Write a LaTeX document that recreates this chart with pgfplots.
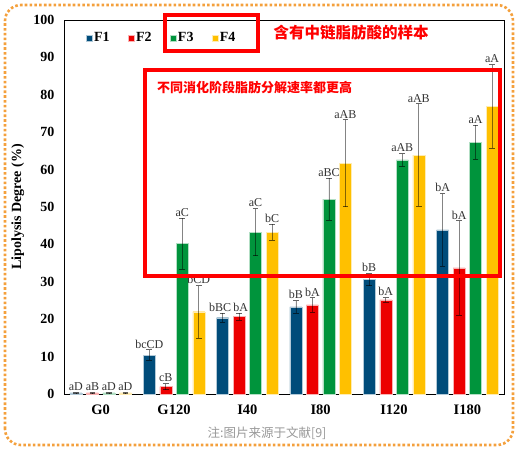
\documentclass[border=0pt]{standalone}
\usepackage{pgfplots}
\usepackage{pgfplotstable}
\pgfplotsset{compat=1.18}
\usepackage{fontspec}
\setmainfont{Liberation Serif}
\newfontfamily\cjk{Noto Sans CJK SC}
\definecolor{cF1}{RGB}{0,76,122}
\definecolor{cF2}{RGB}{236,0,0}
\definecolor{cF3}{RGB}{0,148,60}
\definecolor{cF4}{RGB}{255,192,0}
\definecolor{bord}{RGB}{244,160,60}
\definecolor{boxred}{RGB}{255,0,0}

\pgfplotstableread{
x y ey lab dx
0 0.3 0.1 aD 0
1 10.4 1.4 bcCD 0
2 20.4 1.2 bBC -2.5
3 23.3 1.7 bB 0
4 30.6 1.6 bB 0
5 43.9 9.7 bA 0
}\tFone
\pgfplotstableread{
x y ey lab dx
0 0.3 0.1 aB 0
1 2.0 0.8 cB 0
2 20.7 0.9 bA 1.5
3 23.8 1.9 bA 0
4 25.2 0.6 bA 0
5 33.7 12.6 bA 0
}\tFtwo
\pgfplotstableread{
x y ey lab dx
0 0.3 0.1 aD 0
1 40.2 6.8 aC 0
2 43.3 6.3 aC 0
3 52.1 5.6 aBC 0
4 62.6 1.7 aAB 0
5 67.3 4.5 aA 0
}\tFthree
\pgfplotstableread{
x y ey lab dx
0 0.3 0.1 aD 0
1 22.0 7.0 bCD 0
2 43.3 2.1 bC 0
3 61.7 11.6 aAB 0
4 63.9 13.7 aAB 0
5 76.9 11.2 aA 0
}\tFfour

\begin{document}
\begin{tikzpicture}
\useasboundingbox (0pt,0pt) rectangle (521pt,451pt);
\begin{axis}[
  at={(64pt,57pt)}, anchor=south west,
  scale only axis, width=440pt, height=374pt,
  xmin=-0.5, xmax=5.5, ymin=0, ymax=100,
  ytick={0,10,...,100},
  xtick={0,1,2,3,4,5},
  xticklabels={G0,G120,I40,I80,I120,I180},
  major tick length=0pt,
  axis line style={black, line width=0.9pt},
  /pgf/number format/assume math mode=true,
  yticklabel style={xshift=-6pt, font=\fontsize{14}{14}\selectfont\bfseries},
  xticklabel style={yshift=-7pt, font=\fontsize{14.5}{14.5}\selectfont\bfseries},
  ylabel={Lipolysis Degree (\%)},
  ylabel style={at={(axis description cs:-0.105,0.5)}, anchor=center, font=\fontsize{14}{14}\selectfont\bfseries},
  ybar=4.5pt, bar width=12pt,
  legend columns=4,
  legend style={draw=none, fill=none, at={(axis description cs:0.042,0.952)}, anchor=west,
    font=\fontsize{14}{14}\selectfont\bfseries, /tikz/every even column/.append style={column sep=16pt}},
  legend image code/.code={\fill[#1] (0pt,-3pt) rectangle (6pt,3pt);},
  error bars/y dir=both, error bars/y explicit,
  error bars/error bar style={black, opacity=0.45, line width=0.8pt},
  error bars/error mark options={rotate=90, mark size=2.8pt, black, opacity=0.6, line width=0.8pt},
  point meta=explicit symbolic,
  nodes near coords,
  visualization depends on={\thisrow{ey} \as \ey},
  visualization depends on={\thisrow{dx} \as \dx},
  nodes near coords style={anchor=south, yshift=\ey*3.74pt+0.5pt, xshift=\dx*1pt, font=\fontsize{12}{12}\selectfont, text=black!80, inner sep=0.8pt},
]
\addplot[fill=cF1, draw=white!70!cF1, line width=0.4pt] table[x=x, y=y, y error=ey, meta=lab] {\tFone};
\addlegendentry{F1}
\addplot[fill=cF2, draw=white!70!cF2, line width=0.4pt] table[x=x, y=y, y error=ey, meta=lab] {\tFtwo};
\addlegendentry{F2}
\addplot[fill=cF3, draw=white!70!cF3, line width=0.4pt] table[x=x, y=y, y error=ey, meta=lab] {\tFthree};
\addlegendentry{F3}
\addplot[fill=cF4, draw=white!70!cF4, line width=0.4pt] table[x=x, y=y, y error=ey, meta=lab] {\tFfour};
\addlegendentry{F4}
\end{axis}
% annotations
\draw[boxred, line width=3.2pt] (165pt,400pt) rectangle (258pt,436pt);
\node[text=boxred, font=\cjk\bfseries\fontsize{15.5}{15.5}\selectfont] at (351pt,418pt) {含有中链脂肪酸的样本};
\draw[boxred, line width=3.2pt] (145pt,175pt) rectangle (500pt,381pt);
\node[text=boxred, font=\cjk\bfseries\fontsize{13}{13}\selectfont, anchor=west, inner sep=0pt] at (157pt,364pt) {不同消化阶段脂肪分解速率都更高};
\node[text=black!40, font=\cjk\fontsize{12.5}{12.5}\selectfont] at (267pt,18pt) {注:图片来源于文献[9]};
\draw[bord, line width=2.6pt, dash pattern=on 2.6pt off 2.2pt, rounded corners=16pt] (5pt,6pt) rectangle (513pt,446pt);
\end{tikzpicture}
\end{document}
